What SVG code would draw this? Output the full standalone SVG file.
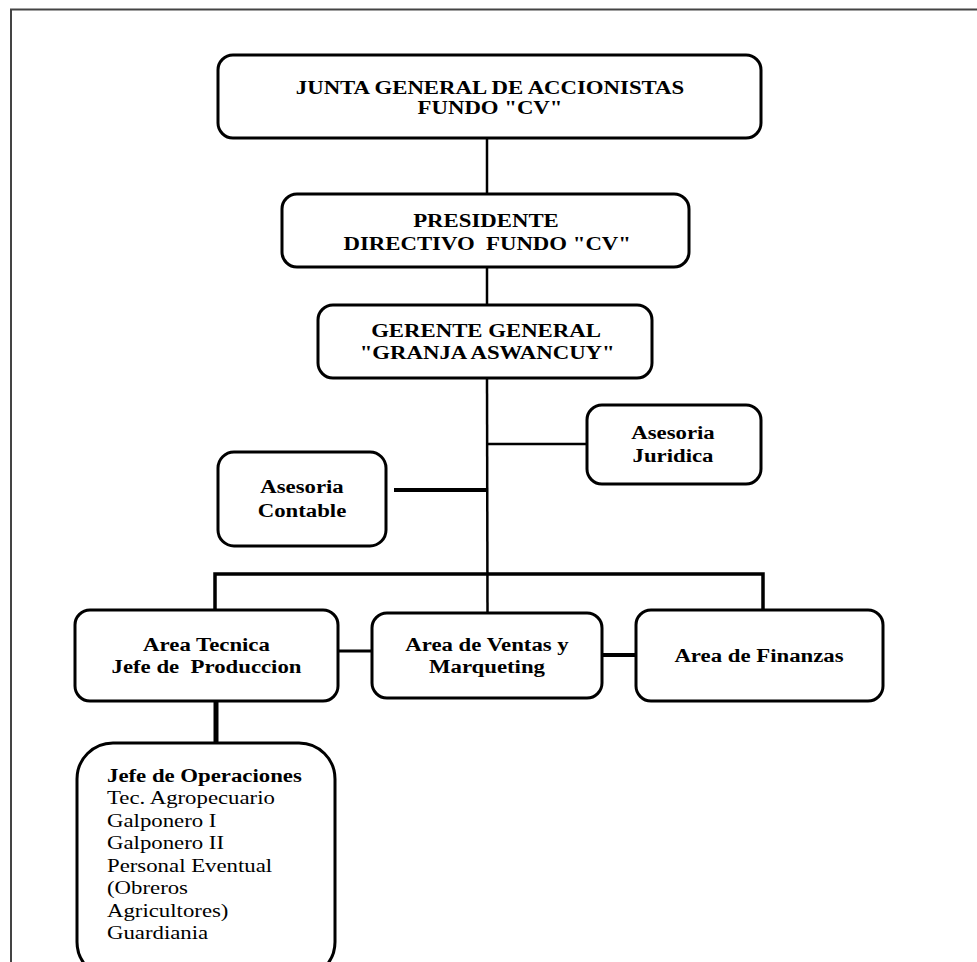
<svg xmlns="http://www.w3.org/2000/svg" width="977" height="962" viewBox="0 0 977 962">
<style>
.box{fill:#fff;stroke:#000;stroke-width:3}
.t{font-family:"Liberation Serif","Times New Roman",serif;font-size:19px;fill:#000;white-space:pre}
.b{font-weight:bold}
.c{text-anchor:middle}
.ln{stroke:#000;fill:none;stroke-linecap:butt}
</style>
<rect width="977" height="962" fill="#fff"/>
<g id="frame">
<path d="M11,962 V9.5 H977" fill="none" stroke="#444" stroke-width="2"/>
</g>
<g id="connectors">
<line class="ln" x1="487" y1="138" x2="487" y2="194" stroke-width="2.5"/>
<line class="ln" x1="487" y1="267" x2="487" y2="305" stroke-width="2.5"/>
<line class="ln" x1="487" y1="378" x2="487.5" y2="613" stroke-width="2.5"/>
<line class="ln" x1="487" y1="444" x2="587" y2="444" stroke-width="2.5"/>
<line class="ln" x1="394" y1="490" x2="487" y2="490" stroke-width="4"/>
<path class="ln" d="M215,610 V574 H487" stroke-width="3.5"/>
<path class="ln" d="M487,574 H763 V615" stroke-width="3.5"/>
<line class="ln" x1="338" y1="651" x2="372" y2="651" stroke-width="3"/>
<line class="ln" x1="602" y1="655" x2="636" y2="655" stroke-width="4"/>
<line class="ln" x1="216" y1="701" x2="216" y2="743" stroke-width="5"/>
</g>
<g id="junta">
<rect class="box" x="218" y="55" width="543" height="83" rx="15"/>
<text class="t b c" transform="translate(490,94) scale(1.2,1)"><tspan x="0" y="0">JUNTA GENERAL DE ACCIONISTAS</tspan><tspan x="0" y="20">FUNDO "CV"</tspan></text>
</g>
<g id="presidente">
<rect class="box" x="282" y="194" width="407" height="73" rx="15"/>
<text class="t b c" transform="translate(486,227) scale(1.2,1)"><tspan x="0" y="0">PRESIDENTE</tspan><tspan x="1" y="23">DIRECTIVO  FUNDO "CV"</tspan></text>
</g>
<g id="gerente">
<rect class="box" x="318" y="305" width="334" height="73" rx="15"/>
<text class="t b c" transform="translate(486,337) scale(1.2,1)"><tspan x="0" y="0">GERENTE GENERAL</tspan><tspan x="1" y="22">"GRANJA ASWANCUY"</tspan></text>
</g>
<g id="juridica">
<rect class="box" x="587" y="405" width="174" height="79" rx="15"/>
<text class="t b c" transform="translate(673,439) scale(1.2,1)"><tspan x="0" y="0">Asesoria</tspan><tspan x="0" y="23">Juridica</tspan></text>
</g>
<g id="contable">
<rect class="box" x="218" y="452" width="168" height="94" rx="16"/>
<text class="t b c" transform="translate(302,493) scale(1.2,1)"><tspan x="0" y="0">Asesoria</tspan><tspan x="0" y="24">Contable</tspan></text>
</g>
<g id="tecnica">
<rect class="box" x="75" y="610" width="263" height="91" rx="15"/>
<text class="t b c" transform="translate(206.5,651) scale(1.2,1)"><tspan x="0" y="0">Area Tecnica</tspan><tspan x="0" y="22">Jefe de  Produccion</tspan></text>
</g>
<g id="ventas">
<rect class="box" x="372" y="613" width="230" height="85" rx="15"/>
<text class="t b c" transform="translate(487,651) scale(1.2,1)"><tspan x="0" y="0">Area de Ventas y</tspan><tspan x="0" y="22">Marqueting</tspan></text>
</g>
<g id="finanzas">
<rect class="box" x="636" y="610" width="247" height="91" rx="15"/>
<text class="t b c" transform="translate(759,662) scale(1.2,1)">Area de Finanzas</text>
</g>
<g id="operaciones">
<rect class="box" x="77" y="743" width="258" height="235" rx="36"/>
<text class="t" transform="translate(107,782) scale(1.2,1)"><tspan class="b" x="0" y="0">Jefe de Operaciones</tspan><tspan x="0" y="22.5">Tec. Agropecuario</tspan><tspan x="0" y="45">Galponero I</tspan><tspan x="0" y="67.5">Galponero II</tspan><tspan x="0" y="90">Personal Eventual</tspan><tspan x="0" y="112.5">(Obreros</tspan><tspan x="0" y="135">Agricultores)</tspan><tspan x="0" y="157.5">Guardiania</tspan></text>
</g>
</svg>
